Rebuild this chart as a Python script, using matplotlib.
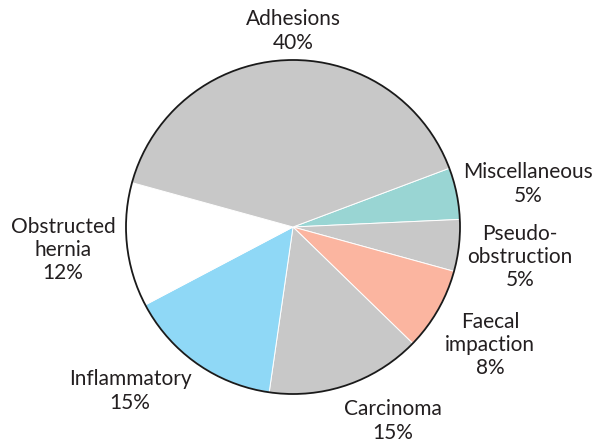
import matplotlib
matplotlib.use("Agg")
import matplotlib.pyplot as plt
from matplotlib.patches import Circle

# Causes of obstruction, in clockwise order starting from the right
categories = ["Miscellaneous", "Pseudo-\nobstruction", "Faecal\nimpaction",
              "Carcinoma", "Inflammatory", "Obstructed\nhernia", "Adhesions"]
percentages = [5, 5, 8, 15, 15, 12, 40]
colors = ["#99d5d3", "#c8c8c8", "#fbb5a0", "#c8c8c8", "#8fd8f6", "#ffffff", "#c8c8c8"]

# Label anchor points (pixel coordinates, y measured from the top)
label_pos = [(528, 184), (520, 257), (490, 345), (393, 421),
             (130, 391), (63, 250), (293, 31)]

W, H = 602, 445
fig = plt.figure(figsize=(W / 100, H / 100), dpi=100)
ax = fig.add_axes([0, 0, 1, 1])

cx, cy, r = 293, H - 227, 167
ax.pie(percentages, colors=colors, startangle=20.6, counterclock=False,
       center=(cx, cy), radius=r, frame=True,
       wedgeprops=dict(edgecolor="white", linewidth=0.7))
ax.set_xlim(0, W)
ax.set_ylim(0, H)
ax.axis("off")
ax.add_patch(Circle((cx, cy), r, fill=False, edgecolor="#1a1a1a", linewidth=1.3))

for name, pct, (x, y) in zip(categories, percentages, label_pos):
    ax.text(x, H - y, f"{name}\n{pct}%", ha="center", va="center",
            fontsize=15, color="#231f20", linespacing=1.2,
            family=["Lato", "DejaVu Sans"])

fig.savefig("out.png", dpi=100)
